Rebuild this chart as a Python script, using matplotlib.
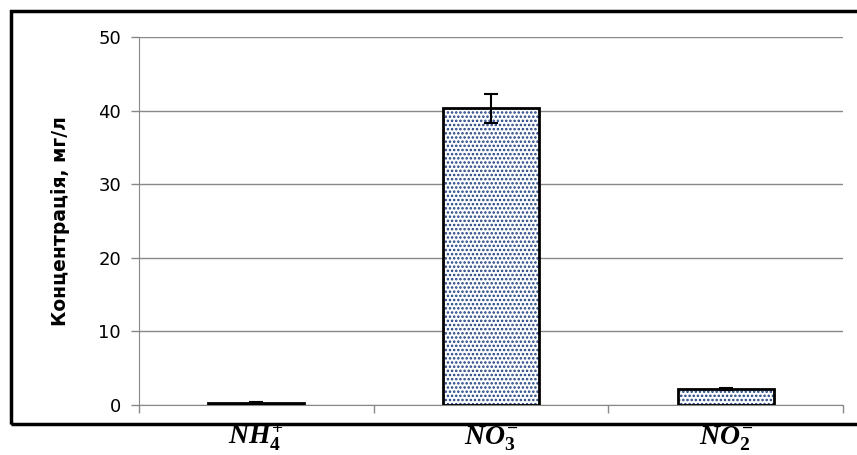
import matplotlib.pyplot as plt
import matplotlib.transforms as mtransforms
from matplotlib.patches import Rectangle
import numpy as np

plt.rcParams['mathtext.fontset'] = 'custom'
plt.rcParams['mathtext.it'] = 'Liberation Serif:italic:bold'
plt.rcParams['mathtext.rm'] = 'Liberation Serif:bold'
plt.rcParams['hatch.linewidth'] = 1.2

#-------------------------------------------
#              Data
#-------------------------------------------
ions = [r'$\mathit{NH_4^{+}}$', r'$\mathit{NO_3^{-}}$', r'$\mathit{NO_2^{-}}$']
conc = [0.3, 40.3, 2.2]
conc_err = [0.05, 2.0, 0.15]
yticks = [0, 10, 20, 30, 40, 50]

fig = plt.figure(figsize=(8.57, 4.55), dpi=100)
ax = fig.add_axes([0.1622, 0.1099, 0.8215, 0.8088])

x = np.arange(len(ions))
ax.bar(x, conc, width=0.41, color='white', edgecolor='#1f3f80', hatch='....',
       linewidth=0, zorder=2)
ax.bar(x, conc, width=0.41, color='none', edgecolor='black', linewidth=2, zorder=3)
ax.errorbar(x, conc, yerr=conc_err, fmt='none', ecolor='black', elinewidth=1.5,
            capsize=5, capthick=1.5, zorder=4)

ax.set_xlim(-0.5, len(ions) - 0.5)
ax.set_ylim(0, 50)
ax.set_yticks(yticks)
ax.set_xticks(np.arange(len(ions) + 1) - 0.5)
ax.set_xticklabels([])
ax.yaxis.grid(True, color='#888888', linewidth=1)
ax.set_axisbelow(True)
for s in ['top', 'right']:
    ax.spines[s].set_visible(False)
for s in ['left', 'bottom']:
    ax.spines[s].set_color('#888888')
ax.tick_params(axis='both', direction='out', length=6, color='#888888', width=1)
ax.tick_params(axis='y', labelsize=13, pad=7)
ax.set_ylabel('Концентрація, мг/л', fontsize=13.5, fontweight='bold', labelpad=20)

# category labels under the outer frame
trans = mtransforms.blended_transform_factory(ax.transData, fig.transFigure)
for xi, lab in zip(x, ions):
    ax.text(xi, 0.004, lab, transform=trans, ha='center', va='bottom', fontsize=20)

# outer chart frame
fig.patches.append(Rectangle((0.0128, 0.068), 1.2, 0.907, transform=fig.transFigure,
                             fill=False, edgecolor='black', linewidth=2.5, clip_on=False))

fig.savefig('out.png', dpi=100)
